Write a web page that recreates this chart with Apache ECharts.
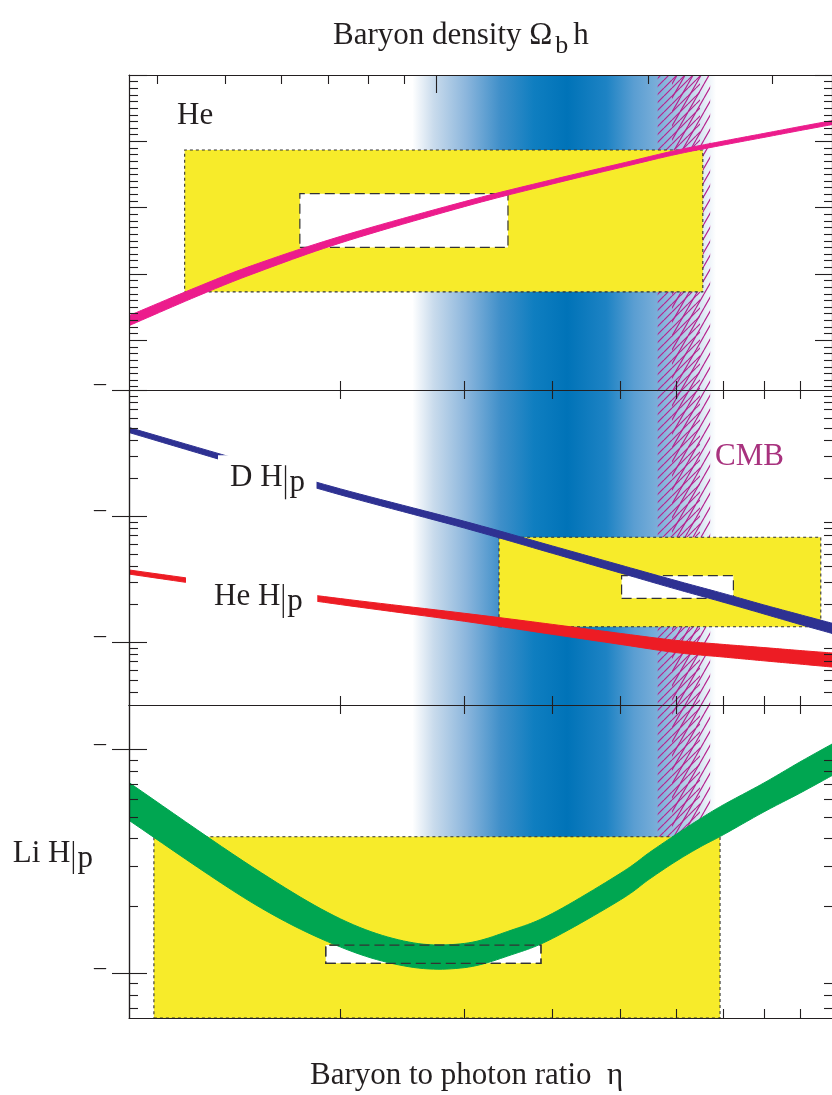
<!DOCTYPE html>
<html>
<head>
<meta charset="utf-8">
<title>BBN abundances</title>
<script src="https://cdn.jsdelivr.net/npm/echarts@6.0.0/dist/echarts.min.js"></script>
<style>
  html, body { margin: 0; padding: 0; background: #fff; }
  #chart { width: 832px; height: 1095px; }
</style>
</head>
<body>
<div id="chart"></div>
<script>
// eta is in units of 1e-10 everywhere
const etaHe  = [1, 1.25, 1.5, 2, 3, 4, 5, 6, 7, 8, 9, 10];
const heLow  = [0.22220, 0.22664, 0.23000, 0.23468, 0.24015, 0.24356, 0.24604, 0.24803, 0.24943, 0.25059, 0.25162, 0.25252];
const heHigh = [0.22371, 0.22803, 0.23130, 0.23567, 0.24091, 0.24422, 0.24664, 0.24863, 0.25003, 0.25119, 0.25222, 0.25312];

const etaMid  = [1, 1.5, 2, 3, 4, 5, 6, 7, 8, 9, 10];
const dhLow   = [4.60e-4, 2.35e-4, 1.47e-4, 8.02e-5, 5.06e-5, 3.53e-5, 2.63e-5, 2.07e-5, 1.67e-5, 1.38e-5, 1.17e-5];
const dhHigh  = [5.04e-4, 2.61e-4, 1.64e-4, 9.08e-5, 5.79e-5, 4.08e-5, 3.07e-5, 2.43e-5, 1.97e-5, 1.65e-5, 1.41e-5];
const he3Low  = [3.46e-5, 2.49e-5, 1.98e-5, 1.46e-5, 1.15e-5, 9.57e-6, 8.24e-6, 7.60e-6, 7.09e-6, 6.68e-6, 6.33e-6];
const he3High = [3.73e-5, 2.73e-5, 2.21e-5, 1.69e-5, 1.38e-5, 1.17e-5, 1.03e-5, 9.57e-6, 9.03e-6, 8.56e-6, 8.18e-6];

const etaLi  = [1, 1.5, 2, 2.5, 3, 3.5, 4, 5, 5.5, 6, 6.5, 7, 8, 9, 10];
const liLow  = [4.83e-10, 2.06e-10, 1.31e-10, 1.07e-10, 1.06e-10, 1.21e-10, 1.43e-10, 2.13e-10, 2.64e-10, 3.17e-10, 3.68e-10, 4.16e-10, 5.27e-10, 6.39e-10, 7.66e-10];
const liHigh = [7.13e-10, 2.98e-10, 1.75e-10, 1.38e-10, 1.36e-10, 1.56e-10, 1.85e-10, 2.80e-10, 3.47e-10, 4.18e-10, 4.92e-10, 5.66e-10, 7.10e-10, 8.81e-10, 1.06e-9];

// observational boxes: [eta range], [abundance range]
const heObsEta = [1.20, 6.55],   heObsY = [0.2273, 0.2487];
const heInEta  = [1.75, 3.46],   heInY  = [0.2340, 0.2421];
const dObsEta  = [3.36, 9.64],   dObsY  = [1.32e-5, 6.78e-5];
const dInEta   = [5.02, 7.24],   dInY   = [2.22e-5, 3.36e-5];
const liObsEta = [1.085, 6.93],  liObsY = [6.31e-11, 4.08e-10];
const liInEta  = [1.905, 3.855], liInY  = [1.108e-10, 1.337e-10];

// concordance band and CMB hatches
const concordEta = [2.53, 6.84];
const cmbHatchA  = [5.65, 6.49];
const cmbHatchB  = [5.92, 6.71];

// axes
const etaRange = [1, 10];
const ypRange  = [0.2125, 0.26];
const dRange   = [Math.pow(10, -5.5), 1e-3];
const liRange  = [Math.pow(10, -10.2), Math.pow(10, -8.8)];
const etaTicks   = [2, 3, 4, 5, 6, 7, 8, 9];
const omegaMajor = [0.01];
const omegaMinor = [0.004, 0.005, 0.006, 0.007, 0.008, 0.009, 0.02, 0.03];
const etaPerOmega = 274;
const ypMajor = [0.22, 0.23, 0.24, 0.25, 0.26];
const dMajor  = [1e-5, 1e-4, 1e-3];
const liMajor = [1e-10, 1e-9];

const INK = '#231f20';
const SERIF = '"Liberation Serif", "Times New Roman", serif';
const PINK = '#ec1c8c', NAVY = '#2e3192', RED = '#ed1c24', GREEN = '#00a651';
const YELLOW = '#f7eb2a', MAGENTA = '#b5258f';

const lg = Math.log10;

// minor ticks
const ypMinor = [];
for (let k = 213; k < 260; k++) if (k % 10) ypMinor.push(k / 1000);
function logMinors(n0, n1) {
  const out = [];
  for (let n = n0; n <= n1; n++) for (let k = 2; k <= 9; k++) out.push(lg(k) + n);
  return out;
}

// y transforms per panel
const ty = [v => v, lg, lg];
const yRanges = [ypRange, dRange, liRange].map((r, i) => r.map(ty[i]));
const yMajorT = [ypMajor, dMajor.map(lg), liMajor.map(lg)];
const yMinorT = [ypMinor, logMinors(-6, -4), logMinors(-11, -9)];

// hatch patterns for CMB
function hatch(w, h) {
  const c = document.createElement('canvas');
  c.width = w; c.height = h;
  const g = c.getContext('2d');
  g.strokeStyle = MAGENTA;
  g.lineWidth = 1.2;
  g.beginPath();
  for (const dx of [-w, 0, w]) { g.moveTo(dx, h); g.lineTo(dx + w, 0); }
  g.stroke();
  return c;
}
const patA = { image: hatch(8, 8), repeat: 'repeat' };
const patB = { image: hatch(8, 14), repeat: 'repeat' };

const blueGrad = new echarts.graphic.LinearGradient(0, 0, 1, 0, [
  { offset: 0.00, color: '#ffffff' },
  { offset: 0.07, color: '#c9dbec' },
  { offset: 0.18, color: '#8ab5dc' },
  { offset: 0.29, color: '#3f8fc9' },
  { offset: 0.40, color: '#0f7ec0' },
  { offset: 0.51, color: '#0073b8' },
  { offset: 0.64, color: '#1e83c4' },
  { offset: 0.73, color: '#5a9ed2' },
  { offset: 0.82, color: '#80b1da' },
  { offset: 0.92, color: '#c2d8eb' },
  { offset: 1.00, color: '#ffffff' }
]);

// grids: 0-2 main panels, 3-5 overlays carrying the minor ticks
const panelTop = [75, 390, 705], panelH = [315, 315, 313];
const grids = [];
for (let k = 0; k < 6; k++) grids.push({ left: 129, width: 704, top: panelTop[k % 3], height: panelH[k % 3] });

const lineStyle = { color: INK, width: 1.2 };
function xAxis(grid, pos, min, max, ticks, len, showLine) {
  return {
    type: 'value', gridIndex: grid, position: pos, min, max, z: 7,
    axisLine: { show: showLine, lineStyle },
    axisTick: { show: ticks.length > 0, inside: true, length: len, customValues: ticks, lineStyle: { color: INK, width: 1.1 } },
    axisLabel: { show: false }, splitLine: { show: false }
  };
}
function yAxis(grid, pos, range, ticks, len, showLine, dashes) {
  return {
    type: 'value', gridIndex: grid, position: pos, min: range[0], max: range[1], z: 7,
    axisLine: { show: showLine, lineStyle },
    axisTick: { show: true, inside: true, length: len, customValues: ticks, lineStyle: { color: INK, width: 1.1 } },
    axisLabel: dashes ? {
      show: true, customValues: ticks, formatter: () => '{d|\u2013}', margin: 23,
      rich: { d: { fontSize: 24, fontFamily: SERIF, color: INK, padding: [0, 0, 12, 0] } }
    } : { show: false },
    splitLine: { show: false }
  };
}

const etaT = etaTicks.map(lg);
const omRange = [lg(etaRange[0] / etaPerOmega), lg(etaRange[1] / etaPerOmega)];
const xAxes = [
  xAxis(0, 'bottom', 0, 1, etaT, 9, true),
  xAxis(0, 'top', omRange[0], omRange[1], omegaMajor.map(lg), 18, true),
  xAxis(1, 'bottom', 0, 1, etaT, 9, true),
  xAxis(1, 'top', 0, 1, etaT, 9, true),
  xAxis(2, 'bottom', 0, 1, etaT, 9, true),
  xAxis(2, 'top', 0, 1, etaT, 9, true),
  xAxis(3, 'top', omRange[0], omRange[1], omegaMinor.map(lg), 9, false),
  xAxis(4, 'top', 0, 1, [], 9, false),
  xAxis(5, 'top', 0, 1, [], 9, false)
];
const yAxes = [];
for (let p = 0; p < 3; p++) {
  yAxes.push(yAxis(p, 'left', yRanges[p], yMajorT[p], 18, true, p > 0));
  yAxes.push(yAxis(p, 'right', yRanges[p], yMajorT[p], 17, true, false));
}
for (let p = 0; p < 3; p++) {
  yAxes.push(yAxis(p + 3, 'left', yRanges[p], yMinorT[p], 9, false, false));
  yAxes.push(yAxis(p + 3, 'right', yRanges[p], yMinorT[p], 8, false, false));
}

// markArea helpers
function vband(eta, style) {
  return [{ xAxis: lg(eta[0]), itemStyle: style }, { xAxis: lg(eta[1]) }];
}
function rect(p, eta, y, style) {
  return [{ xAxis: lg(eta[0]), yAxis: ty[p](y[0]), itemStyle: style }, { xAxis: lg(eta[1]), yAxis: ty[p](y[1]) }];
}
function host(p, z, items) {
  return {
    type: 'line', xAxisIndex: 2 * p, yAxisIndex: 2 * p, data: [], z, silent: true,
    markArea: { silent: true, z, label: { show: false }, emphasis: { disabled: true }, data: items }
  };
}
const yellowStyle = { color: YELLOW, borderColor: '#333', borderWidth: 1.1, borderType: [3, 3] };
const whiteStyle = { color: '#ffffff', borderColor: '#333', borderWidth: 1.2, borderType: [10, 5] };
const bgItems = [
  vband(concordEta, { color: blueGrad }),
  vband(cmbHatchA, { color: patA }),
  vband(cmbHatchB, { color: patB })
];

// Catmull-Rom through screen points, so band edges come out smooth
function spline(pts, steps) {
  const out = [];
  for (let i = 0; i < pts.length - 1; i++) {
    const p0 = pts[Math.max(i - 1, 0)], p1 = pts[i], p2 = pts[i + 1], p3 = pts[Math.min(i + 2, pts.length - 1)];
    for (let s = 0; s < steps; s++) {
      const t = s / steps, t2 = t * t, t3 = t2 * t;
      const f = (a, b, c, d) => 0.5 * (2 * b + (-a + c) * t + (2 * a - 5 * b + 4 * c - d) * t2 + (-a + 3 * b - 3 * c + d) * t3);
      out.push([f(p0[0], p1[0], p2[0], p3[0]), f(p0[1], p1[1], p2[1], p3[1])]);
    }
  }
  out.push(pts[pts.length - 1]);
  return out;
}

// theory band: polygon between low and high curves, placed with the axes' own scales
function band(p, name, etas, lo, hi, color) {
  const t = ty[p];
  const data = etas.map((e, i) => [lg(e), t(lo[i]), t(hi[i])]);
  return {
    type: 'custom', name, xAxisIndex: 2 * p, yAxisIndex: 2 * p, z: 5, silent: true, clip: true,
    data, encode: { x: 0, y: [1, 2] },
    renderItem(params, api) {
      if (params.dataIndex !== 0) return null;
      const upper = spline(data.map(d => api.coord([d[0], d[2]])), 12);
      const lower = spline(data.map(d => api.coord([d[0], d[1]])), 12).reverse();
      return {
        type: 'polygon',
        shape: { points: upper.concat(lower) },
        style: { fill: color, stroke: color, lineWidth: 1 }
      };
    }
  };
}

const series = [
  host(0, 1, bgItems),
  host(1, 1, bgItems),
  host(2, 1, bgItems),
  host(0, 3, [rect(0, heObsEta, heObsY, yellowStyle), rect(0, heInEta, heInY, whiteStyle)]),
  host(1, 3, [rect(1, dObsEta, dObsY, yellowStyle), rect(1, dInEta, dInY, whiteStyle)]),
  host(2, 3, [rect(2, liObsEta, liObsY, yellowStyle), rect(2, liInEta, liInY, whiteStyle)]),
  band(0, 'He', etaHe, heLow, heHigh, PINK),
  band(1, 'D', etaMid, dhLow, dhHigh, NAVY),
  band(1, 'He3', etaMid, he3Low, he3High, RED),
  band(2, 'Li', etaLi, liLow, liHigh, GREEN),
  host(2, 6, [rect(2, liInEta, liInY, { color: 'rgba(0,0,0,0)', borderColor: '#333', borderWidth: 1.2, borderType: [10, 5] })])
];

// text
const measure = document.createElement('canvas').getContext('2d');
function textW(s, size) { measure.font = size + 'px ' + SERIF; return measure.measureText(s).width; }
function txt(x, baseline, s, size, color) {
  return {
    type: 'text', x, y: baseline - 0.305 * size, z: 10, silent: true,
    style: { text: s, font: size + 'px ' + SERIF, fill: color || INK, align: 'left', verticalAlign: 'middle',
             textAlign: 'left', textVerticalAlign: 'middle' }
  };
}
// "X H|p" labels: white gap in the curve, main text, evaluation bar, subscript p
function evalLabel(x, baseline, main, gapL, gapR) {
  const w = textW(main, 31);
  const bx = x + w + 3;
  return [
    { type: 'rect', z: 9, silent: true, shape: { x: x - gapL, y: baseline - 32, width: gapL + w + 23 + gapR, height: 48 },
      style: { fill: '#ffffff' } },
    txt(x, baseline, main, 31),
    { type: 'line', z: 10, silent: true, shape: { x1: bx, y1: baseline - 22, x2: bx, y2: baseline + 12 },
      style: { stroke: INK, lineWidth: 1.3 } },
    txt(bx + 4, baseline + 5.5, 'p', 31)
  ];
}
const titleMain = 'Baryon density \u03A9';
const tw = textW(titleMain, 31);
const liW = textW('Li H', 31);
const graphics = [
  txt(333, 45, titleMain, 31),
  txt(333 + tw + 3, 54, 'b', 26),
  txt(333 + tw + 3 + textW('b', 26) + 5, 45, 'h', 31),
  txt(310, 1085, 'Baryon to photon ratio  \u03B7', 31),
  txt(177, 125, 'He', 31),
  txt(715, 466, 'CMB', 31, '#a8327e'),
  ...evalLabel(230, 487.3, 'D H', 12, 11),
  ...evalLabel(214, 606, 'He H', 28, 14),
  txt(12.7, 863.3, 'Li H', 31),
  { type: 'line', z: 10, silent: true, shape: { x1: 12.7 + liW + 3, y1: 841, x2: 12.7 + liW + 3, y2: 874 },
    style: { stroke: INK, lineWidth: 1.3 } },
  txt(12.7 + liW + 7, 868.8, 'p', 31)
];

const chart = echarts.init(document.getElementById('chart'), null, { renderer: 'canvas' });
chart.setOption({
  animation: false,
  backgroundColor: '#ffffff',
  grid: grids,
  xAxis: xAxes,
  yAxis: yAxes,
  series,
  graphic: { elements: graphics }
});
</script>
</body>
</html>
